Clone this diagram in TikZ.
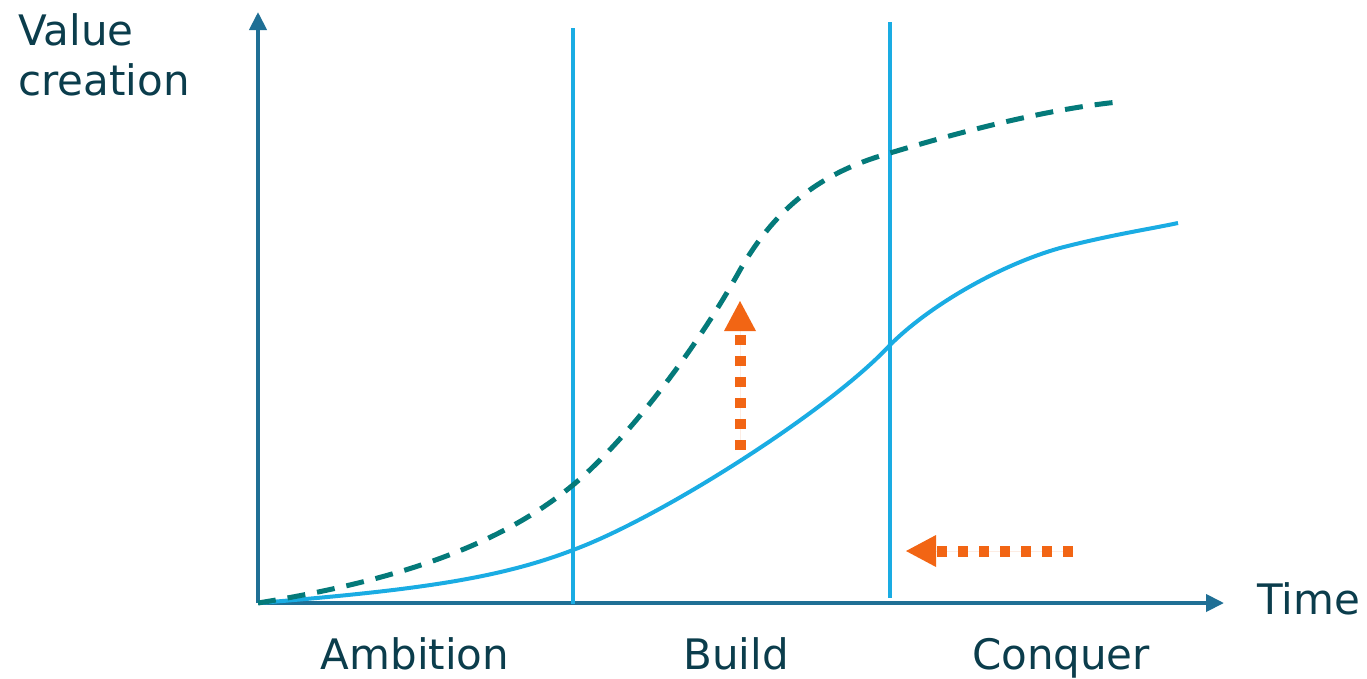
\documentclass[tikz,border=0pt]{standalone}
\usepackage{fontspec}
\setmainfont{DejaVu Sans}
\usetikzlibrary{arrows.meta}
\definecolor{axiscol}{HTML}{1F6F95}
\definecolor{textcol}{HTML}{0B3D4C}
\definecolor{lightblue}{HTML}{1AACE3}
\definecolor{tealc}{HTML}{047A7A}
\definecolor{orangec}{HTML}{F26514}
\tikzset{
  axisline/.style={draw=axiscol, line width=4, -{Triangle[width=17,length=18]}},
  phaseline/.style={draw=lightblue, line width=4.5},
  lbl/.style={text=textcol, font=\fontsize{42}{50}\selectfont, inner sep=0},
  orangearrow/.style={draw=orangec, line width=11, dash pattern=on 10 off 11, -{Triangle[width=32,length=30,line width=0,sep=0]}, fill=orangec},
}
\begin{document}
\begin{tikzpicture}[x=1pt,y=-1pt]
\useasboundingbox (0,0) rectangle (1367,678);
\coordinate (O) at (258,603);
\coordinate (Ytip) at (258,12);
\coordinate (Xtip) at (1224,603);
\draw[axisline] (O) -- (Ytip);
\draw[axisline] (O) -- (Xtip);
\coordinate (v1t) at (573,28);
\coordinate (v1b) at (573,604);
\coordinate (v2t) at (890,22);
\coordinate (v2b) at (890,598);
\draw[phaseline] (v1t) -- (v1b);
\draw[phaseline] (v2t) -- (v2b);
% solid curve
\draw[lightblue, line width=4] (258,603) .. controls (420,590) and (500,578) .. (573,550)
  .. controls (660,518) and (830,410) .. (890,345)
  .. controls (930,305) and (1000,265) .. (1060,248)
  .. controls (1110,235) and (1150,229) .. (1178,223);
% dashed curve
\draw[tealc, line width=5, dash pattern=on 18 off 12] (258,603) .. controls (400,580) and (500,545) .. (573,485)
  .. controls (620,446) and (690,360) .. (740,270)
  .. controls (780,200) and (830,170) .. (890,153)
  .. controls (950,135) and (1040,110) .. (1118,102);
% orange arrows
\coordinate (a1s) at (740,450);
\coordinate (a1e) at (740,301);
\draw[orangearrow] (a1s) -- (a1e);
\coordinate (a2s) at (1073,551);
\coordinate (a2e) at (906,551);
\draw[orangearrow] (a2s) -- (a2e);
% labels
\node[lbl, anchor=base west] (yl1) at (18,45) {Value};
\node[lbl, anchor=base west] (yl2) at (18,95) {creation};
\node[lbl, anchor=base west] (tl) at (1257,614) {Time};
\node[lbl, anchor=base] (amb) at (415,669) {Ambition};
\node[lbl, anchor=base] (bld) at (736,669) {Build};
\node[lbl, anchor=base] (cnq) at (1061,669) {Conquer};
\end{tikzpicture}
\end{document}
